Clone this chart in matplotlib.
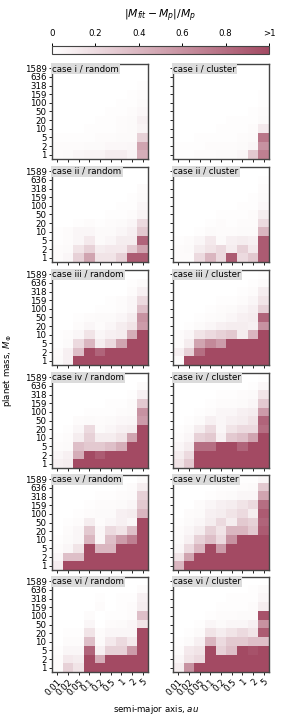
import matplotlib
matplotlib.use("Agg")
import matplotlib.pyplot as plt
from matplotlib.colors import LinearSegmentedColormap
import numpy as np

# semi-major axis (columns) and planet mass (rows, top -> bottom)
a_labels = ['0.01', '0.02', '0.05', '0.1', '0.2', '0.5', '1', '2', '5']
m_labels = ['1589', '636', '318', '159', '100', '50', '20', '10', '5', '2', '1']

cases = ['i', 'ii', 'iii', 'iv', 'v', 'vi']
kinds = ['random', 'cluster']

# relative mass error, rows top (1589) -> bottom (1), columns 0.01 -> 5 au
i_random = [
    [0, 0, 0, 0, 0, 0, 0, 0, 0],
    [0, 0, 0, 0, 0, 0, 0, 0, 0],
    [0, 0, 0, 0, 0, 0, 0, 0, 0.01],
    [0, 0, 0, 0, 0, 0, 0, 0.01, 0.02],
    [0, 0, 0, 0, 0, 0, 0.01, 0.01, 0.03],
    [0, 0, 0, 0, 0, 0.01, 0.01, 0.02, 0.04],
    [0, 0, 0, 0, 0.01, 0.01, 0.02, 0.03, 0.08],
    [0, 0, 0, 0.01, 0.01, 0.01, 0.02, 0.03, 0.06],
    [0.01, 0.01, 0.01, 0.01, 0.02, 0.02, 0.03, 0.03, 0.25],
    [0.02, 0.02, 0.02, 0.03, 0.03, 0.04, 0.04, 0.05, 0.5],
    [0.02, 0.03, 0.05, 0.06, 0.06, 0.1, 0.1, 0.06, 0.45],
]
i_cluster = [
    [0, 0, 0, 0, 0, 0, 0, 0, 0],
    [0, 0, 0, 0, 0, 0, 0, 0, 0],
    [0, 0, 0, 0, 0, 0, 0, 0, 0],
    [0, 0, 0, 0, 0, 0, 0, 0, 0.01],
    [0, 0, 0, 0, 0, 0, 0, 0, 0.01],
    [0, 0, 0, 0, 0, 0, 0, 0.01, 0.02],
    [0, 0, 0, 0, 0, 0.01, 0.01, 0.01, 0.03],
    [0, 0, 0, 0, 0.01, 0.01, 0.01, 0.02, 0.12],
    [0, 0, 0.01, 0.01, 0.01, 0.01, 0.02, 0.03, 0.75],
    [0.01, 0.01, 0.01, 0.02, 0.02, 0.02, 0.03, 0.05, 0.6],
    [0.01, 0.01, 0.02, 0.02, 0.03, 0.03, 0.05, 0.3, 0.7],
]
ii_random = [
    [0, 0, 0, 0, 0, 0, 0, 0, 0],
    [0, 0, 0, 0, 0, 0, 0, 0, 0],
    [0, 0, 0, 0, 0, 0, 0, 0, 0.02],
    [0, 0, 0, 0, 0, 0, 0, 0.01, 0.03],
    [0, 0, 0, 0, 0, 0, 0.01, 0.01, 0.05],
    [0, 0, 0, 0, 0, 0.01, 0.01, 0.02, 0.06],
    [0, 0, 0.01, 0.02, 0.01, 0.02, 0.03, 0.05, 0.2],
    [0.01, 0.02, 0.05, 0.05, 0.03, 0.03, 0.05, 0.08, 0.3],
    [0.01, 0.02, 0.05, 0.12, 0.03, 0.05, 0.1, 0.1, 0.85],
    [0.02, 0.03, 0.15, 0.25, 0.1, 0.12, 0.12, 0.28, 0.5],
    [0.02, 0.05, 0.25, 0.5, 0.15, 0.15, 0.25, 0.9, 0.9],
]
ii_cluster = [
    [0, 0, 0, 0, 0, 0, 0, 0, 0],
    [0, 0, 0, 0, 0, 0, 0, 0, 0.01],
    [0, 0, 0, 0, 0, 0, 0, 0, 0.02],
    [0, 0, 0, 0, 0, 0, 0, 0.01, 0.03],
    [0, 0, 0, 0, 0, 0, 0.01, 0.01, 0.04],
    [0, 0, 0, 0, 0.01, 0.01, 0.01, 0.02, 0.1],
    [0, 0, 0, 0.01, 0.02, 0.01, 0.02, 0.02, 0.2],
    [0, 0, 0.01, 0.03, 0.02, 0.02, 0.03, 0.03, 0.4],
    [0.01, 0.02, 0.05, 0.12, 0.03, 0.08, 0.1, 0.08, 0.9],
    [0.02, 0.03, 0.1, 0.15, 0.2, 0.1, 0.25, 0.12, 0.9],
    [0.02, 0.02, 0.2, 0.4, 0.2, 0.9, 0.2, 0.3, 0.9],
]
iii_random = [
    [0, 0, 0, 0, 0, 0, 0, 0, 0],
    [0, 0, 0, 0, 0, 0, 0, 0.01, 0.03],
    [0, 0, 0, 0, 0, 0, 0, 0.02, 0.08],
    [0, 0, 0, 0, 0, 0.01, 0.02, 0.05, 0.2],
    [0, 0, 0, 0, 0.01, 0.01, 0.02, 0.05, 0.35],
    [0, 0, 0.01, 0.02, 0.03, 0.03, 0.05, 0.1, 0.6],
    [0, 0, 0.02, 0.05, 0.02, 0.05, 0.1, 0.15, 0.55],
    [0.01, 0.02, 0.05, 0.15, 0.05, 0.08, 0.1, 0.45, 1],
    [0.01, 0.03, 0.2, 0.4, 0.1, 0.2, 0.5, 1, 1],
    [0.02, 0.08, 0.35, 1, 0.85, 1, 1, 1, 1],
    [0.03, 0.08, 1, 1, 1, 1, 1, 1, 1],
]
iii_cluster = [
    [0, 0, 0, 0, 0, 0, 0, 0, 0.01],
    [0, 0, 0, 0, 0, 0, 0, 0.01, 0.03],
    [0, 0, 0, 0, 0, 0, 0.01, 0.02, 0.1],
    [0, 0, 0, 0, 0.01, 0.01, 0.02, 0.05, 0.15],
    [0, 0, 0, 0.01, 0.02, 0.03, 0.05, 0.08, 0.25],
    [0, 0, 0.01, 0.02, 0.03, 0.05, 0.08, 0.1, 0.85],
    [0, 0.01, 0.03, 0.05, 0.08, 0.1, 0.1, 0.08, 0.6],
    [0.02, 0.05, 0.15, 0.2, 0.25, 0.3, 0.1, 0.4, 1],
    [0.02, 0.1, 0.5, 0.65, 0.55, 1, 1, 1, 1],
    [0.08, 0.25, 0.8, 1, 1, 1, 1, 1, 1],
    [0.03, 1, 1, 1, 1, 1, 1, 1, 1],
]
iv_random = [
    [0, 0, 0, 0, 0, 0, 0, 0, 0],
    [0, 0, 0, 0, 0, 0, 0, 0, 0.03],
    [0, 0, 0, 0, 0, 0, 0, 0.01, 0.08],
    [0, 0, 0, 0, 0, 0.01, 0.01, 0.03, 0.3],
    [0, 0, 0, 0.01, 0.01, 0.01, 0.02, 0.03, 0.6],
    [0, 0, 0.02, 0.03, 0.02, 0.03, 0.04, 0.05, 0.55],
    [0, 0.01, 0.05, 0.2, 0.03, 0.05, 0.08, 0.1, 1],
    [0.01, 0.02, 0.1, 0.25, 0.1, 0.1, 0.15, 0.5, 1],
    [0.02, 0.03, 0.35, 0.3, 0.3, 0.35, 0.45, 1, 1],
    [0.05, 0.08, 0.45, 1, 0.9, 1, 1, 1, 1],
    [0.08, 0.1, 1, 1, 1, 1, 1, 1, 1],
]
iv_cluster = [
    [0, 0, 0, 0, 0, 0, 0, 0, 0.01],
    [0, 0, 0, 0, 0, 0, 0, 0.01, 0.05],
    [0, 0, 0, 0, 0.01, 0.01, 0.02, 0.03, 0.15],
    [0, 0, 0, 0.01, 0.02, 0.02, 0.03, 0.05, 0.3],
    [0, 0, 0.01, 0.02, 0.05, 0.05, 0.08, 0.1, 0.55],
    [0, 0.01, 0.03, 0.08, 0.05, 0.08, 0.1, 0.15, 0.85],
    [0.01, 0.03, 0.1, 0.2, 0.05, 0.15, 0.2, 0.2, 0.8],
    [0.02, 0.05, 0.25, 0.3, 0.08, 0.3, 0.35, 0.5, 1],
    [0.05, 0.1, 0.8, 0.8, 1, 1, 0.85, 1, 1],
    [0.1, 0.2, 1, 1, 1, 1, 1, 1, 1],
    [0.15, 0.3, 1, 1, 1, 1, 1, 1, 1],
]
v_random = [
    [0, 0, 0, 0, 0, 0, 0, 0, 0.03],
    [0, 0, 0, 0, 0, 0, 0.01, 0.02, 0.1],
    [0, 0, 0, 0, 0.01, 0.01, 0.02, 0.03, 0.25],
    [0, 0, 0, 0.01, 0.02, 0.02, 0.03, 0.05, 0.3],
    [0, 0, 0.01, 0.02, 0.03, 0.03, 0.08, 0.1, 0.4],
    [0, 0.01, 0.02, 0.1, 0.02, 0.05, 0.08, 0.05, 1],
    [0, 0.02, 0.05, 0.3, 0.05, 0.2, 0.15, 0.35, 1],
    [0.01, 0.03, 0.05, 0.4, 0.05, 0.35, 0.55, 0.7, 1],
    [0.02, 0.05, 0.15, 1, 0.4, 0.4, 1, 1, 1],
    [0.05, 0.35, 0.35, 1, 1, 1, 1, 1, 1],
    [0.1, 1, 1, 1, 1, 1, 1, 1, 1],
]
v_cluster = [
    [0, 0, 0, 0, 0, 0, 0.01, 0.01, 0.05],
    [0, 0, 0, 0, 0.01, 0.01, 0.02, 0.03, 0.3],
    [0, 0, 0, 0.01, 0.02, 0.03, 0.05, 0.05, 0.5],
    [0, 0, 0.02, 0.05, 0.08, 0.1, 0.15, 0.2, 0.8],
    [0, 0.02, 0.03, 0.08, 0.1, 0.15, 0.2, 0.1, 0.9],
    [0.01, 0.03, 0.05, 0.1, 0.2, 0.1, 0.3, 0.25, 0.85],
    [0.02, 0.05, 0.1, 0.25, 0.15, 0.4, 0.4, 0.3, 0.9],
    [0.03, 0.08, 0.25, 0.35, 0.2, 0.6, 1, 1, 1],
    [0.05, 0.2, 0.4, 1, 0.55, 1, 1, 1, 1],
    [0.15, 0.5, 1, 1, 1, 1, 1, 1, 1],
    [0.4, 1, 1, 1, 1, 1, 1, 1, 1],
]
vi_random = [
    [0, 0, 0, 0, 0, 0, 0, 0, 0],
    [0, 0, 0, 0, 0, 0, 0, 0, 0.02],
    [0, 0, 0, 0, 0.01, 0, 0.01, 0.01, 0.08],
    [0, 0, 0, 0, 0.02, 0, 0.01, 0.02, 0.1],
    [0, 0, 0, 0.02, 0, 0.01, 0.01, 0.02, 0.35],
    [0, 0, 0, 0.05, 0, 0.02, 0.03, 0.05, 0.15],
    [0, 0.01, 0.01, 0.15, 0.02, 0.05, 0.05, 0.05, 1],
    [0, 0.02, 0.02, 0.35, 0.03, 0.12, 0.2, 0.12, 1],
    [0.01, 0.05, 0.05, 0.85, 0.08, 0.25, 0.25, 0.55, 1],
    [0.02, 0.12, 0.1, 1, 0.45, 1, 1, 1, 1],
    [0.02, 0.25, 0.15, 1, 1, 1, 1, 1, 1],
]
vi_cluster = [
    [0, 0, 0, 0, 0, 0, 0, 0, 0],
    [0, 0, 0, 0, 0, 0, 0, 0.01, 0.03],
    [0, 0, 0, 0, 0, 0.01, 0.01, 0.01, 0.05],
    [0, 0, 0, 0, 0.01, 0.01, 0.01, 0.02, 0.1],
    [0, 0, 0, 0.01, 0.02, 0.02, 0.03, 0.03, 0.95],
    [0, 0, 0.01, 0.05, 0.03, 0.05, 0.05, 0.08, 0.6],
    [0, 0.01, 0.03, 0.15, 0.1, 0.15, 0.2, 0.15, 0.9],
    [0.01, 0.03, 0.08, 0.4, 0.2, 0.3, 0.3, 0.35, 0.35],
    [0.02, 0.12, 0.15, 1, 0.25, 0.35, 1, 0.95, 1],
    [0.05, 0.15, 0.2, 1, 1, 1, 1, 1, 1],
    [0.1, 0.6, 1, 1, 1, 1, 1, 1, 1],
]

grids = {
    ('i', 'random'): i_random, ('i', 'cluster'): i_cluster,
    ('ii', 'random'): ii_random, ('ii', 'cluster'): ii_cluster,
    ('iii', 'random'): iii_random, ('iii', 'cluster'): iii_cluster,
    ('iv', 'random'): iv_random, ('iv', 'cluster'): iv_cluster,
    ('v', 'random'): v_random, ('v', 'cluster'): v_cluster,
    ('vi', 'random'): vi_random, ('vi', 'cluster'): vi_cluster,
}

W, H = 293, 719
cmap = LinearSegmentedColormap.from_list('rose', ['#ffffff', '#a34a63'])

fig = plt.figure(figsize=(W / 100, H / 100), dpi=100)


def px_axes(x0, y0, w, h):
    # pixel box (top-left origin) -> figure fraction
    return fig.add_axes([x0 / W, 1 - (y0 + h) / H, w / W, h / H])


col_x = [52, 173]
row_y = [64, 167, 270, 373, 475, 577]
pw, ph = 96, 95
fs = 6.2

im = None
for r, case in enumerate(cases):
    for c, kind in enumerate(kinds):
        ax = px_axes(col_x[c], row_y[r], pw, ph)
        data = np.array(grids[(case, kind)])
        im = ax.imshow(data, cmap=cmap, vmin=0, vmax=1, aspect='auto',
                       interpolation='nearest')
        ax.set_xticks(range(len(a_labels)))
        ax.set_yticks(range(len(m_labels)))
        if r == len(cases) - 1:
            ax.set_xticklabels(a_labels, rotation=45, ha='right',
                               rotation_mode='anchor', fontsize=fs)
        else:
            ax.set_xticklabels([])
        if c == 0:
            ax.set_yticklabels(m_labels, fontsize=fs)
        else:
            ax.set_yticklabels([])
        ax.tick_params(length=2.5, width=0.7, pad=1.5, color='#222222')
        for s in ax.spines.values():
            s.set_color('#444444')
            s.set_linewidth(1.0)
        ax.text(0.0, 1.0, 'case %s / %s' % (case, kind), transform=ax.transAxes,
                ha='left', va='top', fontsize=fs,
                bbox=dict(facecolor='#dcdcdc', edgecolor='none', pad=1.0))

cax = px_axes(52, 46, 217, 8)
cb = fig.colorbar(im, cax=cax, orientation='horizontal')
cb.set_ticks([0, 0.2, 0.4, 0.6, 0.8, 1.0])
cb.set_ticklabels(['0', '0.2', '0.4', '0.6', '0.8', '>1'])
cax.xaxis.set_ticks_position('top')
cax.xaxis.set_label_position('top')
cax.tick_params(labelsize=fs, length=2.5, width=0.7, pad=3)
cb.outline.set_edgecolor('#444444')
cb.set_label(r'$|M_{fit} - M_p|/M_p$', fontsize=7.8, labelpad=8)

fig.text(8 / W, 1 - 370 / H, r'planet mass, $M_\oplus$', rotation=90,
         ha='center', va='center', fontsize=6.2)
fig.text(156 / W, 1 - 709 / H, r'semi-major axis, $au$',
         ha='center', va='center', fontsize=6.2)

fig.savefig('out.png', dpi=100)
